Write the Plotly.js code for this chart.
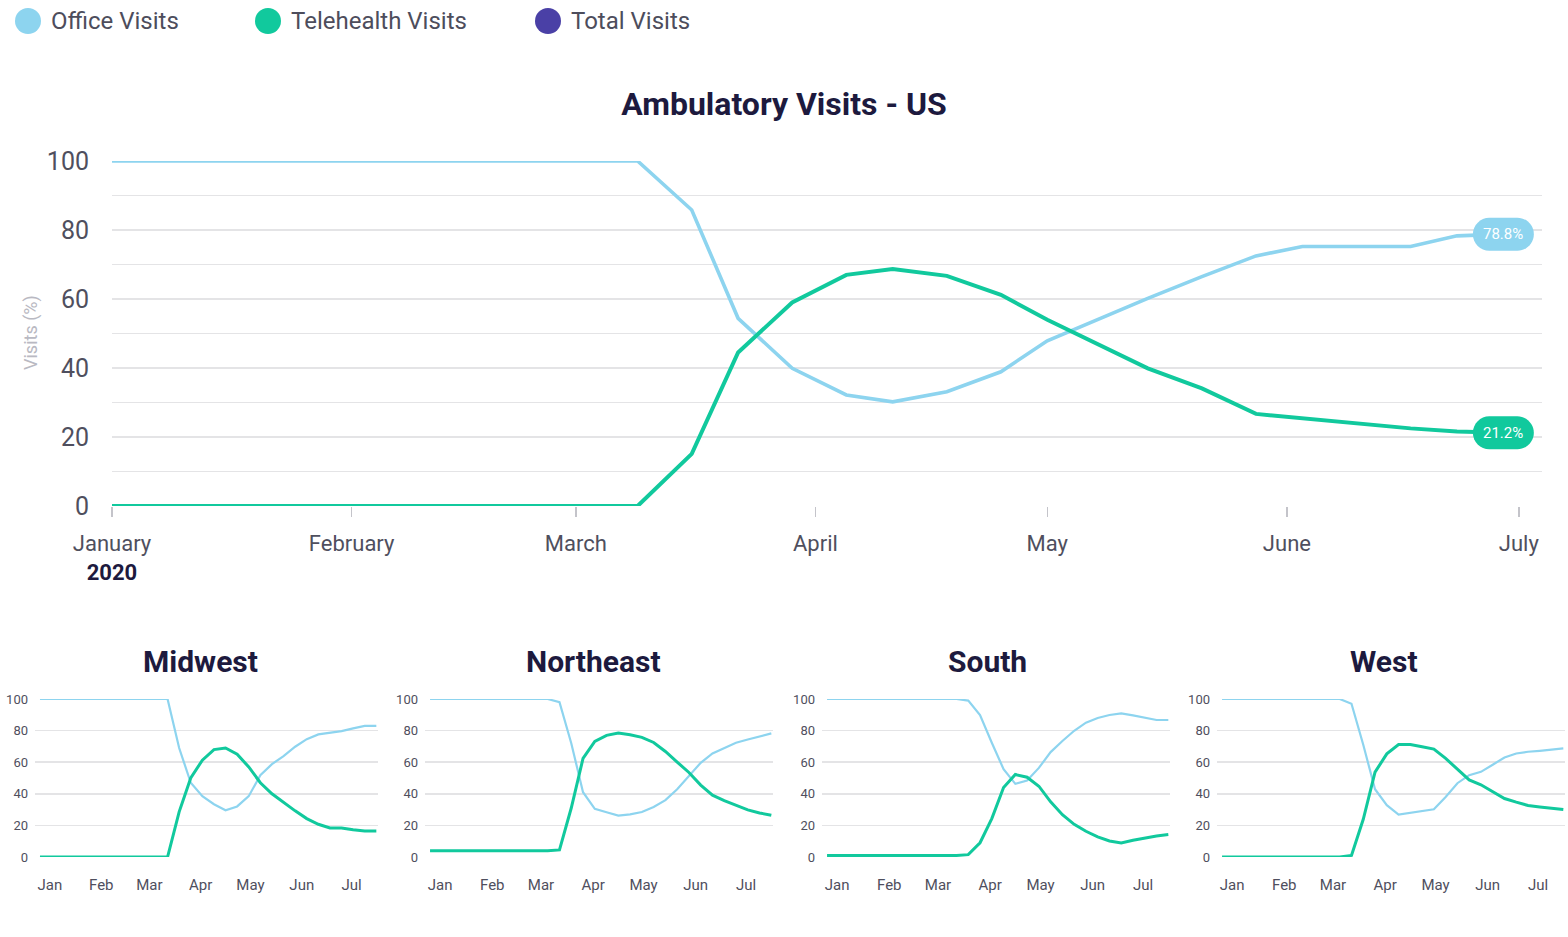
<!DOCTYPE html>
<html>
<head>
<meta charset="utf-8">
<script src="https://cdn.plot.ly/plotly-3.0.1.min.js"></script>
<style>html,body{margin:0;padding:0;background:#fff;}#chart{width:1568px;height:937px;}</style>
</head>
<body>
<div id="chart"></div>
<script>
// ---------- DATA ----------
const seriesNames = ['Office Visits', 'Telehealth Visits', 'Total Visits'];
const seriesColors = ['#8dd4ef', '#11c99d', '#4a40a6'];

// Main chart (US)
const usDates = ['2020-01-01','2020-03-09','2020-03-16','2020-03-22','2020-03-29','2020-04-05','2020-04-11','2020-04-18','2020-04-25','2020-05-01','2020-05-14','2020-05-21','2020-05-28','2020-06-03','2020-06-17','2020-06-23','2020-06-29'];
const usOffice = [100,100,85.8,54.4,39.9,32.2,30.2,33.1,38.9,47.9,60.2,66.5,72.5,75.2,75.2,78.3,78.8];
const usTele   = [0,0,15.1,44.5,59.0,67.0,68.7,66.7,61.2,54.0,39.9,34.1,26.7,25.5,22.5,21.6,21.2];
const usEndLabels = ['78.8%', '21.2%'];

const monthTicks = ['2020-01-01','2020-02-01','2020-03-01','2020-04-01','2020-05-01','2020-06-01','2020-07-01'];
const monthLong = ['January<br><span style="color:#1d1a3e"><b>2020</b></span>','February','March','April','May','June','July'];
const monthShort = ['Jan','Feb','Mar','Apr','May','Jun','Jul'];

// Regional charts (weekly)
const regionNames = ['Midwest','Northeast','South','West'];
const regionDates = ['2019-12-26','2020-01-02','2020-01-09','2020-01-16','2020-01-23','2020-01-30','2020-02-06','2020-02-13','2020-02-20','2020-02-27','2020-03-05','2020-03-12','2020-03-19','2020-03-26','2020-04-02','2020-04-09','2020-04-16','2020-04-23','2020-04-30','2020-05-07','2020-05-14','2020-05-21','2020-05-28','2020-06-04','2020-06-11','2020-06-18','2020-06-25','2020-07-02','2020-07-09','2020-07-16'];
const midwestOffice = [100,100,100,100,100,100,100,100,100,100,100,100,69,47,38.5,33.4,29.6,32,38.5,51.8,58.8,63.8,69.8,74.6,77.6,78.6,79.7,81.4,83,83];
const midwestTele   = [0,0,0,0,0,0,0,0,0,0,0,0,28.6,50,61.3,68,69,65,57,47,40,34.5,29.2,24.3,20.7,18.4,18.4,17.3,16.5,16.5];
const northeastOffice = [100,100,100,100,100,100,100,100,100,100,100,98,72,41,30.5,28.3,26.2,27,28.5,31.7,36,42.9,51.4,59.6,65.5,68.7,72.3,74.4,76.3,78.2];
const northeastTele   = [4,4,4,4,4,4,4,4,4,4,4,4.5,31,62.4,73.2,77,78.4,77.4,75.7,72.5,66.8,60.1,53.5,45.5,39.1,35.7,32.6,29.8,27.9,26.4];
const southOffice = [100,100,100,100,100,100,100,100,100,100,100,100,99,89.8,72.3,55.6,46.3,48.4,56.4,66.4,73.4,79.9,85,88,89.9,90.9,89.6,88.2,86.7,86.7];
const southTele   = [1,1,1,1,1,1,1,1,1,1,1,1,1.5,9,24.3,44,52.2,50.5,44.8,34.9,26.8,20.7,16.3,12.7,10.1,8.9,10.6,12.1,13.3,14.2];
const westOffice = [100,100,100,100,100,100,100,100,100,100,100,97,71,42.9,32.8,26.8,27.9,29.2,30.2,38,46.7,51.8,53.9,58.4,63,65.5,66.6,67.2,68,68.7];
const westTele   = [0,0,0,0,0,0,0,0,0,0,0,1,23.9,53.7,65.3,71.2,71.2,69.8,68.3,62.4,55.4,48.8,45.7,41.2,37,34.7,32.6,31.7,30.7,30];

// ---------- LAYOUT HELPERS ----------
const W = 1568, H = 937;
const px = v => v / W;
const py = v => 1 - v / H;
const FONT = 'Roboto, "Noto Sans", sans-serif';
const TICKC = '#4f4f5e';
const TITLEC = '#1d1a3e';

const traces = [];
const layout = {
  width: W, height: H,
  margin: {l: 0, r: 0, t: 0, b: 0},
  paper_bgcolor: '#ffffff', plot_bgcolor: '#ffffff',
  showlegend: false,
  font: {family: FONT, color: TICKC},
  title: {text: '<b>Ambulatory Visits - US</b>', x: 0.5, xanchor: 'center', xref: 'paper', y: py(104), yanchor: 'middle', yref: 'paper', font: {family: FONT, size: 32, color: TITLEC}},
  shapes: [], annotations: []
};

// Main chart
traces.push({x: usDates, y: usOffice, name: seriesNames[0], type: 'scatter', mode: 'lines', line: {color: seriesColors[0], width: 3.6}, cliponaxis: false, xaxis: 'x', yaxis: 'y', hoverinfo: 'x+y'});
traces.push({x: usDates, y: usTele, name: seriesNames[1], type: 'scatter', mode: 'lines', line: {color: seriesColors[1], width: 4}, cliponaxis: false, xaxis: 'x', yaxis: 'y', hoverinfo: 'x+y'});

const yTickVals = [0,10,20,30,40,50,60,70,80,90,100];
layout.xaxis = {
  type: 'date', range: ['2020-01-01', '2020-07-04'], domain: [px(112), px(1542)],
  tickvals: monthTicks, ticktext: monthLong, ticks: 'outside', ticklen: 10, tickwidth: 1.5, tickcolor: '#c4c4ca',
  showgrid: false, zeroline: false, showline: false, ticklabelstandoff: 8,
  tickfont: {family: FONT, size: 22, color: TICKC}, anchor: 'y', fixedrange: true
};
layout.yaxis = {
  range: [0, 100], domain: [py(506), py(161)],
  tickvals: yTickVals, ticktext: yTickVals.map(v => v % 20 === 0 ? String(v) : ''),
  showgrid: true, gridcolor: '#e4e4e6', gridwidth: 1.5, zeroline: false, showline: false, ticks: '',
  ticklabelstandoff: 22, tickfont: {family: FONT, size: 25, color: TICKC}, anchor: 'x', fixedrange: true
};
layout.annotations.push({text: 'Visits (%)', textangle: -90, xref: 'paper', yref: 'paper', x: px(31), y: py(333), xanchor: 'center', yanchor: 'middle', showarrow: false, font: {family: FONT, size: 18, color: '#b9b9c2'}});

// End-value pills
const pill = 'M -14,-16.5 L 14,-16.5 C 23,-16.5 30.5,-9 30.5,0 C 30.5,9 23,16.5 14,16.5 L -14,16.5 C -23,16.5 -30.5,9 -30.5,0 C -30.5,-9 -23,-16.5 -14,-16.5 Z';
[[usOffice, 0], [usTele, 1]].forEach(([arr, i]) => {
  const last = arr.length - 1;
  layout.shapes.push({type: 'path', xref: 'x', yref: 'y', xsizemode: 'pixel', ysizemode: 'pixel', xanchor: usDates[last], yanchor: arr[last], path: pill, fillcolor: seriesColors[i], line: {width: 0}, layer: 'above'});
  layout.annotations.push({text: usEndLabels[i], xref: 'x', yref: 'y', x: usDates[last], y: arr[last], showarrow: false, font: {family: FONT, size: 15, color: '#ffffff'}});
});

// Regional small multiples
const regionData = [[midwestOffice, midwestTele], [northeastOffice, northeastTele], [southOffice, southTele], [westOffice, westTele]];
const regionDomains = [[35, 378], [425, 773], [822, 1170], [1217, 1565]];
const regionTitleX = [200, 593, 988, 1384];
regionNames.forEach((name, r) => {
  const n = r + 2;
  const xa = 'x' + n, ya = 'y' + n;
  traces.push({x: regionDates, y: regionData[r][0], name: seriesNames[0] + ' - ' + name, type: 'scatter', mode: 'lines', line: {color: seriesColors[0], width: 2.2}, cliponaxis: false, xaxis: xa, yaxis: ya});
  traces.push({x: regionDates, y: regionData[r][1], name: seriesNames[1] + ' - ' + name, type: 'scatter', mode: 'lines', line: {color: seriesColors[1], width: 3}, cliponaxis: false, xaxis: xa, yaxis: ya});
  layout['xaxis' + n] = {
    type: 'date', range: ['2019-12-23', '2020-07-17'], domain: [px(regionDomains[r][0]), px(regionDomains[r][1])],
    tickvals: monthTicks, ticktext: monthShort, ticks: '', showgrid: false, zeroline: false, showline: false,
    ticklabelstandoff: 17, tickfont: {family: FONT, size: 15, color: TICKC}, anchor: ya, fixedrange: true
  };
  layout['yaxis' + n] = {
    range: [0, 100], domain: [py(857), py(699)], tickvals: [0,20,40,60,80,100],
    showgrid: true, gridcolor: '#e4e4e6', gridwidth: 1.5, zeroline: false, showline: false, ticks: '',
    ticklabelstandoff: 6, tickfont: {family: FONT, size: 13, color: TICKC}, anchor: xa, fixedrange: true
  };
  layout.annotations.push({text: '<b>' + name + '</b>', xref: 'paper', yref: 'paper', x: px(regionTitleX[r]), y: py(661), xanchor: 'center', yanchor: 'middle', showarrow: false, font: {family: FONT, size: 30, color: TITLEC}});
});

// Legend (custom, large circle markers)
const legendCircleX = [28, 268, 548];
seriesNames.forEach((nm, i) => {
  layout.shapes.push({type: 'circle', xref: 'paper', yref: 'paper', xsizemode: 'pixel', ysizemode: 'pixel', xanchor: px(legendCircleX[i]), yanchor: py(21), x0: -13, x1: 13, y0: -13, y1: 13, fillcolor: seriesColors[i], line: {width: 0}});
  layout.annotations.push({text: nm, xref: 'paper', yref: 'paper', x: px(legendCircleX[i] + 21), y: py(21), xanchor: 'left', yanchor: 'middle', showarrow: false, font: {family: FONT, size: 24, color: '#4d4d5c'}});
});

Plotly.newPlot('chart', traces, layout, {displayModeBar: false, staticPlot: true});
</script>
</body>
</html>
